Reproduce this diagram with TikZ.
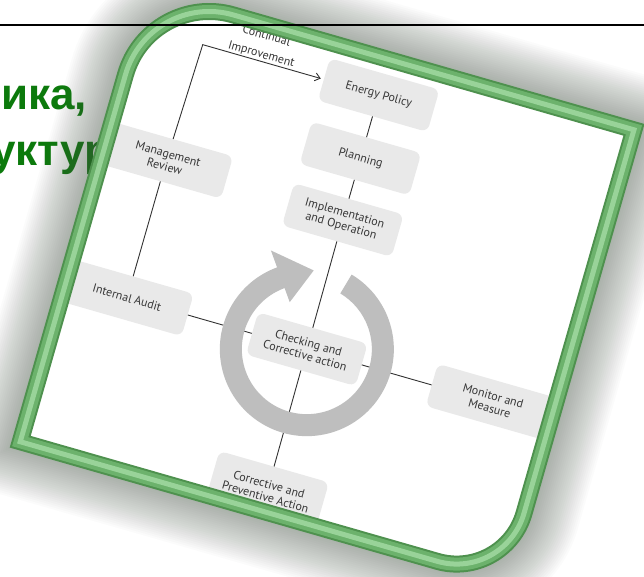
\documentclass[tikz,border=0pt]{standalone}
\usepackage{fontspec}
\setsansfont{PT Sans}
\newfontfamily\titlefamily{Liberation Sans}
\usepackage{tikz}
\usetikzlibrary{arrows.meta}
\definecolor{title_green}{RGB}{12,122,12}
\definecolor{frame_green}{RGB}{108,178,108}
\definecolor{frame_light}{RGB}{165,220,165}
\definecolor{frame_dark}{RGB}{78,145,78}
\definecolor{shadow_gray}{RGB}{85,102,85}
\definecolor{box_gray}{RGB}{233,233,233}
\definecolor{ring_gray}{RGB}{190,190,190}
\definecolor{text_gray}{RGB}{55,55,55}
\definecolor{edge_gray}{RGB}{50,50,50}
\newcommand{\stagefont}{\sffamily\fontsize{12}{13}\selectfont}
\newcommand{\framepath}{(8,477) -- (8,95) arc[start angle=180,end angle=270,radius=87] -- (512,8) -- (512,407) arc[start angle=0,end angle=90,radius=70] -- cycle}

\begin{document}
\begin{tikzpicture}[x=1pt,y=-1pt,>={Straight Barb[length=5pt,width=8pt]}]
    \tikzstyle{title}=[text=title_green, font=\titlefamily\bfseries\fontsize{44}{48}\selectfont, inner sep=0pt]
    \tikzstyle{stage}=[fill=box_gray, rounded corners=7pt, text=text_gray, font=\stagefont, align=center, minimum width=114pt, minimum height=44pt, inner sep=1pt]
    \tikzstyle{note}=[text=text_gray, font=\stagefont, align=center, inner sep=0pt]
    \tikzstyle{link}=[draw=edge_gray, line width=0.9pt]

    \path[use as bounding box] (0,0) rectangle (644,577);
    \clip (0,0) rectangle (644,577);
    \fill[white] (0,0) rectangle (644,577);

    % slide title behind the picture
    \node[title, anchor=base west] (T1) at (1,110) {ика,};
    \node[title, anchor=base west] (T2) at (-9,166) {уктур};

    \begin{scope}[shift={(144,-19)}, rotate=-16, transform shape]
      % soft shadow and paper
      \foreach \i [evaluate=\i as \sw using 16+4*\i] in {1,...,24}
        \draw[shadow_gray, line width=\sw pt, opacity=0.022] \framepath;
      \fill[white] \framepath;

      \node[stage] (EP) at (257,45)  {Energy Policy};
      \node[stage] (PL) at (257,111) {Planning};
      \node[stage] (IO) at (257,175) {Implementation\\and Operation};
      \node[stage] (CA) at (258,309) {Checking and\\Corrective action};
      \node[stage, minimum height=50pt] (CP) at (259,456) {Corrective and\\Preventive Action};
      \node[stage, minimum width=124pt] (MM) at (450,309) {Monitor and\\Measure};
      \node[stage, minimum width=126pt] (IA) at (71,309)  {Internal Audit};
      \node[stage, minimum width=126pt] (MR) at (71,166)  {Management\\Review};
      \node[note]  (CI) at (133,29)  {Continual\\[6pt]Improvement};
      \coordinate (turn) at (74,45);

      \path[link]
       (EP) edge (PL)
       (PL) edge (IO)
       (IO) edge (CA)
       (CA) edge (MM)
       (CA) edge (CP)
       (IA) edge (CA)
       (IA) edge (MR);
      \draw[link, ->, shorten >=3pt] (MR) -- (turn) -- (EP);

      % cycle arrow round the checking box
      \begin{scope}[shift={(258,309)}]
        \fill[ring_gray] (-75:87) arc[start angle=-75,end angle=234,radius=87]
          -- (234:105) -- (259:79) -- (234:50) -- (234:65)
          arc[start angle=234,end angle=-75,radius=65] -- cycle;
      \end{scope}

      % green frame
      \draw[frame_dark, line width=17pt] \framepath;
      \draw[frame_green, line width=13pt] \framepath;
      \draw[frame_light, line width=5pt, opacity=0.8] \framepath;
    \end{scope}

    \draw[black, line width=1.5pt] (0,25) -- (644,25);
\end{tikzpicture}
\end{document}
